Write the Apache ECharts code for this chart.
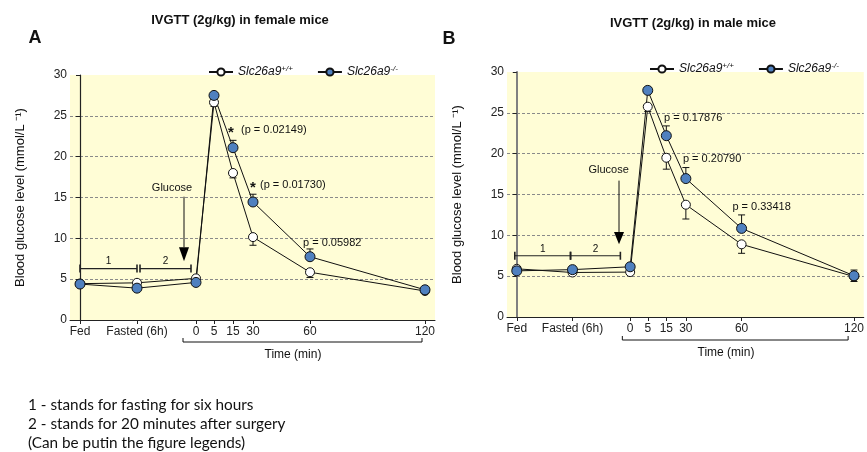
<!DOCTYPE html>
<html lang="en" style="height: 100%">
<head>
  <meta charset="utf-8">
</head>
<body style="height: 100%; margin: 0; background: #fff">
  <div id="container" style="width: 867px; height: 452px"></div>

  <script type="text/javascript" src="https://fastly.jsdelivr.net/npm/echarts@6.0.0/dist/echarts.min.js"></script>
  <script type="text/javascript">
// x positions are on a stretched scale: Fed, Fasted, then minutes after glucose
var xPos = [0, 57, 116, 134, 153, 173, 230, 345];
var xLabels = ['Fed', 'Fasted (6h)', '0', '5', '15', '30', '60', '120'];
var yTicks = [0, 5, 10, 15, 20, 25, 30];

// female mice (panel A)
var femaleWT = [4.45, 4.55, 5.1, 26.65, 18.0, 10.15, 5.85, 3.55];
var femaleKO = [4.4, 3.9, 4.6, 27.5, 21.1, 14.45, 7.75, 3.7];
var femaleWTsem = [0.2, 0.2, 0.2, 0.5, 0.6, 1.0, 0.65, 0.2];
var femaleKOsem = [0.2, 0.2, 0.2, 0.3, 0.9, 0.95, 0.95, 0.2];

// male mice (panel B)
var maleWT = [5.9, 5.45, 5.5, 25.75, 19.5, 13.75, 8.9, 4.95];
var maleKO = [5.65, 5.8, 6.15, 27.75, 22.2, 16.95, 10.85, 5.05];
var maleWTsem = [0.2, 0.2, 0.2, 0.6, 1.4, 1.75, 1.1, 0.6];
var maleKOsem = [0.2, 0.2, 0.2, 0.3, 1.2, 1.35, 1.65, 0.7];

var wtName = 'Slc26a9+/+';
var koName = 'Slc26a9-/-';
var FONT = 'Liberation Sans, Arial, sans-serif';
var BLUE = '#4f80bf';

var myChart = echarts.init(document.getElementById('container'), null, { renderer: 'canvas' });

function pairs(vals) {
  return vals.map(function (v, i) { return [xPos[i], v]; });
}
function errs(vals, sem, dir) {
  return vals.map(function (v, i) { return [xPos[i], v, sem[i], dir]; });
}

function xAxisFor(idx) {
  return {
    type: 'value', gridIndex: idx, min: -10, max: 355,
    axisLine: { show: true, lineStyle: { color: '#222', width: 1 } },
    axisTick: { show: true, customValues: xPos, length: 4, lineStyle: { color: '#222' } },
    axisLabel: {
      customValues: xPos, color: '#222', fontFamily: FONT, fontSize: 12, margin: 6,
      formatter: function (v) { return xLabels[xPos.indexOf(v)]; }
    },
    splitLine: { show: false }
  };
}
function yAxisFor(idx, lineColor, lineWidth) {
  return {
    type: 'value', gridIndex: idx, min: 0, max: 30, interval: 5,
    name: 'Blood glucose level (mmol/L ⁻¹)', nameLocation: 'middle', nameGap: 43,
    nameTextStyle: { fontFamily: FONT, fontSize: 13, color: '#111' },
    axisLine: { show: true, lineStyle: { color: lineColor, width: lineWidth } },
    axisTick: { show: true, length: 4, lineStyle: { color: '#222' } },
    axisLabel: { color: '#222', fontFamily: FONT, fontSize: 12, margin: 3 },
    splitLine: { show: true, showMinLine: false, showMaxLine: false, lineStyle: { color: '#8a8a8a', type: [3, 2], width: 1 } }
  };
}

function lineSeries(name, idx, vals, ko) {
  return {
    name: name, type: 'line', xAxisIndex: idx, yAxisIndex: idx, z: 3,
    data: pairs(vals),
    symbol: 'circle', symbolSize: ko ? 10 : 9,
    lineStyle: { color: '#111', width: 1 },
    itemStyle: { color: ko ? BLUE : '#fff', borderColor: '#111', borderWidth: 1 },
    emphasis: { disabled: true }
  };
}

function errorSeries(idx, vals, sem, dir) {
  return {
    type: 'custom', xAxisIndex: idx, yAxisIndex: idx, z: 2, silent: true,
    data: errs(vals, sem, dir),
    encode: { x: 0, y: 1 },
    renderItem: function (params, api) {
      var x = api.value(0), y = api.value(1), e = api.value(2) * api.value(3);
      var p0 = api.coord([x, y]);
      var p1 = api.coord([x, y + e]);
      var st = { stroke: '#111', lineWidth: 1 };
      return {
        type: 'group',
        children: [
          { type: 'line', shape: { x1: p0[0], y1: p0[1], x2: p1[0], y2: p1[1] }, style: st },
          { type: 'line', shape: { x1: p1[0] - 3.5, y1: p1[1], x2: p1[0] + 3.5, y2: p1[1] }, style: st }
        ]
      };
    }
  };
}

function txt(text, x, y, size, align, weight) {
  return {
    type: 'text', x: x, y: y,
    style: { text: text, fill: '#111', font: (weight || 'normal') + ' ' + size + 'px ' + FONT,
      align: align || 'left', verticalAlign: 'middle' }
  };
}

// annotations drawn in data units: brackets, glucose arrow, p-values, time bracket
function annotSeries(idx, cfg) {
  return {
    type: 'custom', xAxisIndex: idx, yAxisIndex: idx, z: 4, silent: true, clip: false,
    data: [[0, 0]],
    renderItem: function (params, api) {
      var st = { stroke: '#222', lineWidth: 1.2 };
      var ch = [];
      function hbar(xa, xb, y, label) {
        var a = api.coord([xa, y]), b = api.coord([xb, y]);
        ch.push({ type: 'line', shape: { x1: a[0], y1: a[1], x2: b[0], y2: b[1] }, style: st });
        [a, b].forEach(function (p) {
          ch.push({ type: 'line', shape: { x1: p[0], y1: p[1] - 4, x2: p[0], y2: p[1] + 4 }, style: { stroke: '#222', lineWidth: 1.6 } });
        });
        var m = api.coord([(xa + xb) / 2, y]);
        ch.push(txt(label, m[0], m[1] - 7, 10, 'center'));
      }
      hbar(cfg.b1[0], cfg.b1[1], cfg.by, '1');
      hbar(cfg.b2[0], cfg.b2[1], cfg.by, '2');

      // glucose arrow
      var aTop = api.coord([cfg.ax, cfg.aTop]);
      var aHead = api.coord([cfg.ax, cfg.aHead]);
      var aTip = api.coord([cfg.ax, cfg.aTip]);
      ch.push({ type: 'line', shape: { x1: aTop[0], y1: aTop[1], x2: aHead[0], y2: aHead[1] }, style: { stroke: '#111', lineWidth: 1 } });
      ch.push({ type: 'polygon', shape: { points: [[aHead[0] - 5, aHead[1]], [aHead[0] + 5, aHead[1]], [aTip[0], aTip[1]]] }, style: { fill: '#000' } });
      var g = api.coord(cfg.gText);
      ch.push(txt('Glucose', g[0], g[1], 11, 'center'));

      cfg.stars.forEach(function (s) {
        var p = api.coord([s[0], s[1]]);
        ch.push(txt('*', p[0], p[1] + 2, 15, 'center', 'bold'));
      });
      cfg.pvals.forEach(function (s) {
        var p = api.coord([s[0], s[1]]);
        ch.push(txt(s[2], p[0], p[1], 11, 'left'));
      });

      // time bracket under the axis
      var l = api.coord([cfg.tb[0], 0]), r = api.coord([cfg.tb[1], 0]);
      var yb = l[1] + cfg.tOff;
      ch.push({ type: 'line', shape: { x1: l[0], y1: yb, x2: r[0], y2: yb }, style: { stroke: '#111', lineWidth: 1 } });
      ch.push({ type: 'line', shape: { x1: l[0], y1: yb - 4, x2: l[0], y2: yb }, style: { stroke: '#111', lineWidth: 1 } });
      ch.push({ type: 'line', shape: { x1: r[0], y1: yb - 4, x2: r[0], y2: yb }, style: { stroke: '#111', lineWidth: 1 } });
      var c = api.coord([cfg.tc, 0]);
      ch.push(txt('Time (min)', c[0], yb + 13, 12, 'center'));
      return { type: 'group', children: ch };
    }
  };
}

var legendRich = {
  i: { fontFamily: FONT, fontStyle: 'italic', fontSize: 12, color: '#111' },
  s: { fontFamily: FONT, fontStyle: 'italic', fontSize: 8, color: '#111', verticalAlign: 'top', padding: [0, 0, 6, 0] }
};
function legendFmt(name) {
  return '{i|Slc26a9}{s|' + name.replace('Slc26a9', '') + '}';
}

function note(text, y) {
  return { type: 'text', x: 28, y: y,
    style: { text: text, fill: '#111', font: '15.3px Lato, Carlito, sans-serif', verticalAlign: 'middle' } };
}

var option = {
  animation: false,
  grid: [
    { left: 70, top: 75, width: 365, height: 245, show: true, borderWidth: 0, backgroundColor: '#fffdd6' },
    { left: 507, top: 72, width: 365, height: 245, show: true, borderWidth: 0, backgroundColor: '#fffdd6' }
  ],
  legend: [
    { left: 203, top: 60, itemGap: 24, itemWidth: 24, itemHeight: 9, data: [wtName, koName],
      formatter: legendFmt, textStyle: { rich: legendRich } },
    { left: 644, top: 57, itemGap: 24, itemWidth: 24, itemHeight: 9, data: [wtName, koName],
      formatter: legendFmt, textStyle: { rich: legendRich } }
  ],
  xAxis: [xAxisFor(0), xAxisFor(1)],
  yAxis: [yAxisFor(0, '#222', 1.2), yAxisFor(1, '#808080', 2)],
  graphic: [
    txt('IVGTT (2g/kg) in female mice', 240, 20, 13, 'center', 'bold'),
    txt('IVGTT (2g/kg) in male mice', 693, 23, 13, 'center', 'bold'),
    txt('A', 35, 38, 18, 'center', 'bold'),
    txt('B', 449, 39, 18, 'center', 'bold'),
    note('1 - stands for fasting for six hours', 405),
    note('2 - stands for 20 minutes after surgery', 424),
    note('(Can be putin the figure legends)', 443)
  ],
  series: [
    errorSeries(0, femaleWT, femaleWTsem, -1),
    errorSeries(0, femaleKO, femaleKOsem, 1),
    lineSeries(wtName, 0, femaleWT, false),
    lineSeries(koName, 0, femaleKO, true),
    annotSeries(0, {
      b1: [0, 57], b2: [60, 111], by: 6.3,
      ax: 104, aTop: 15.1, aHead: 8.9, aTip: 7.2, gText: [92, 16.2],
      stars: [[151, 23.1], [173, 16.4]],
      pvals: [[161, 23.3, '(p = 0.02149)'], [180, 16.5, '(p = 0.01730)'], [223, 9.4, 'p = 0.05982']],
      tb: [103, 342], tc: 213, tOff: 22
    }),
    errorSeries(1, maleWT, maleWTsem, -1),
    errorSeries(1, maleKO, maleKOsem, 1),
    lineSeries(wtName, 1, maleWT, false),
    lineSeries(koName, 1, maleKO, true),
    annotSeries(1, {
      b1: [-2, 55], b2: [55, 106], by: 7.5,
      ax: 104.6, aTop: 16.7, aHead: 10.4, aTip: 8.9, gText: [94, 18.0],
      stars: [],
      pvals: [[150.6, 24.35, 'p = 0.17876'], [170, 19.3, 'p = 0.20790'], [220.6, 13.5, 'p = 0.33418']],
      tb: [108, 339], tc: 214, tOff: 23
    })
  ]
};

myChart.setOption(option);
window.addEventListener('resize', myChart.resize);
  </script>
</body>
</html>
